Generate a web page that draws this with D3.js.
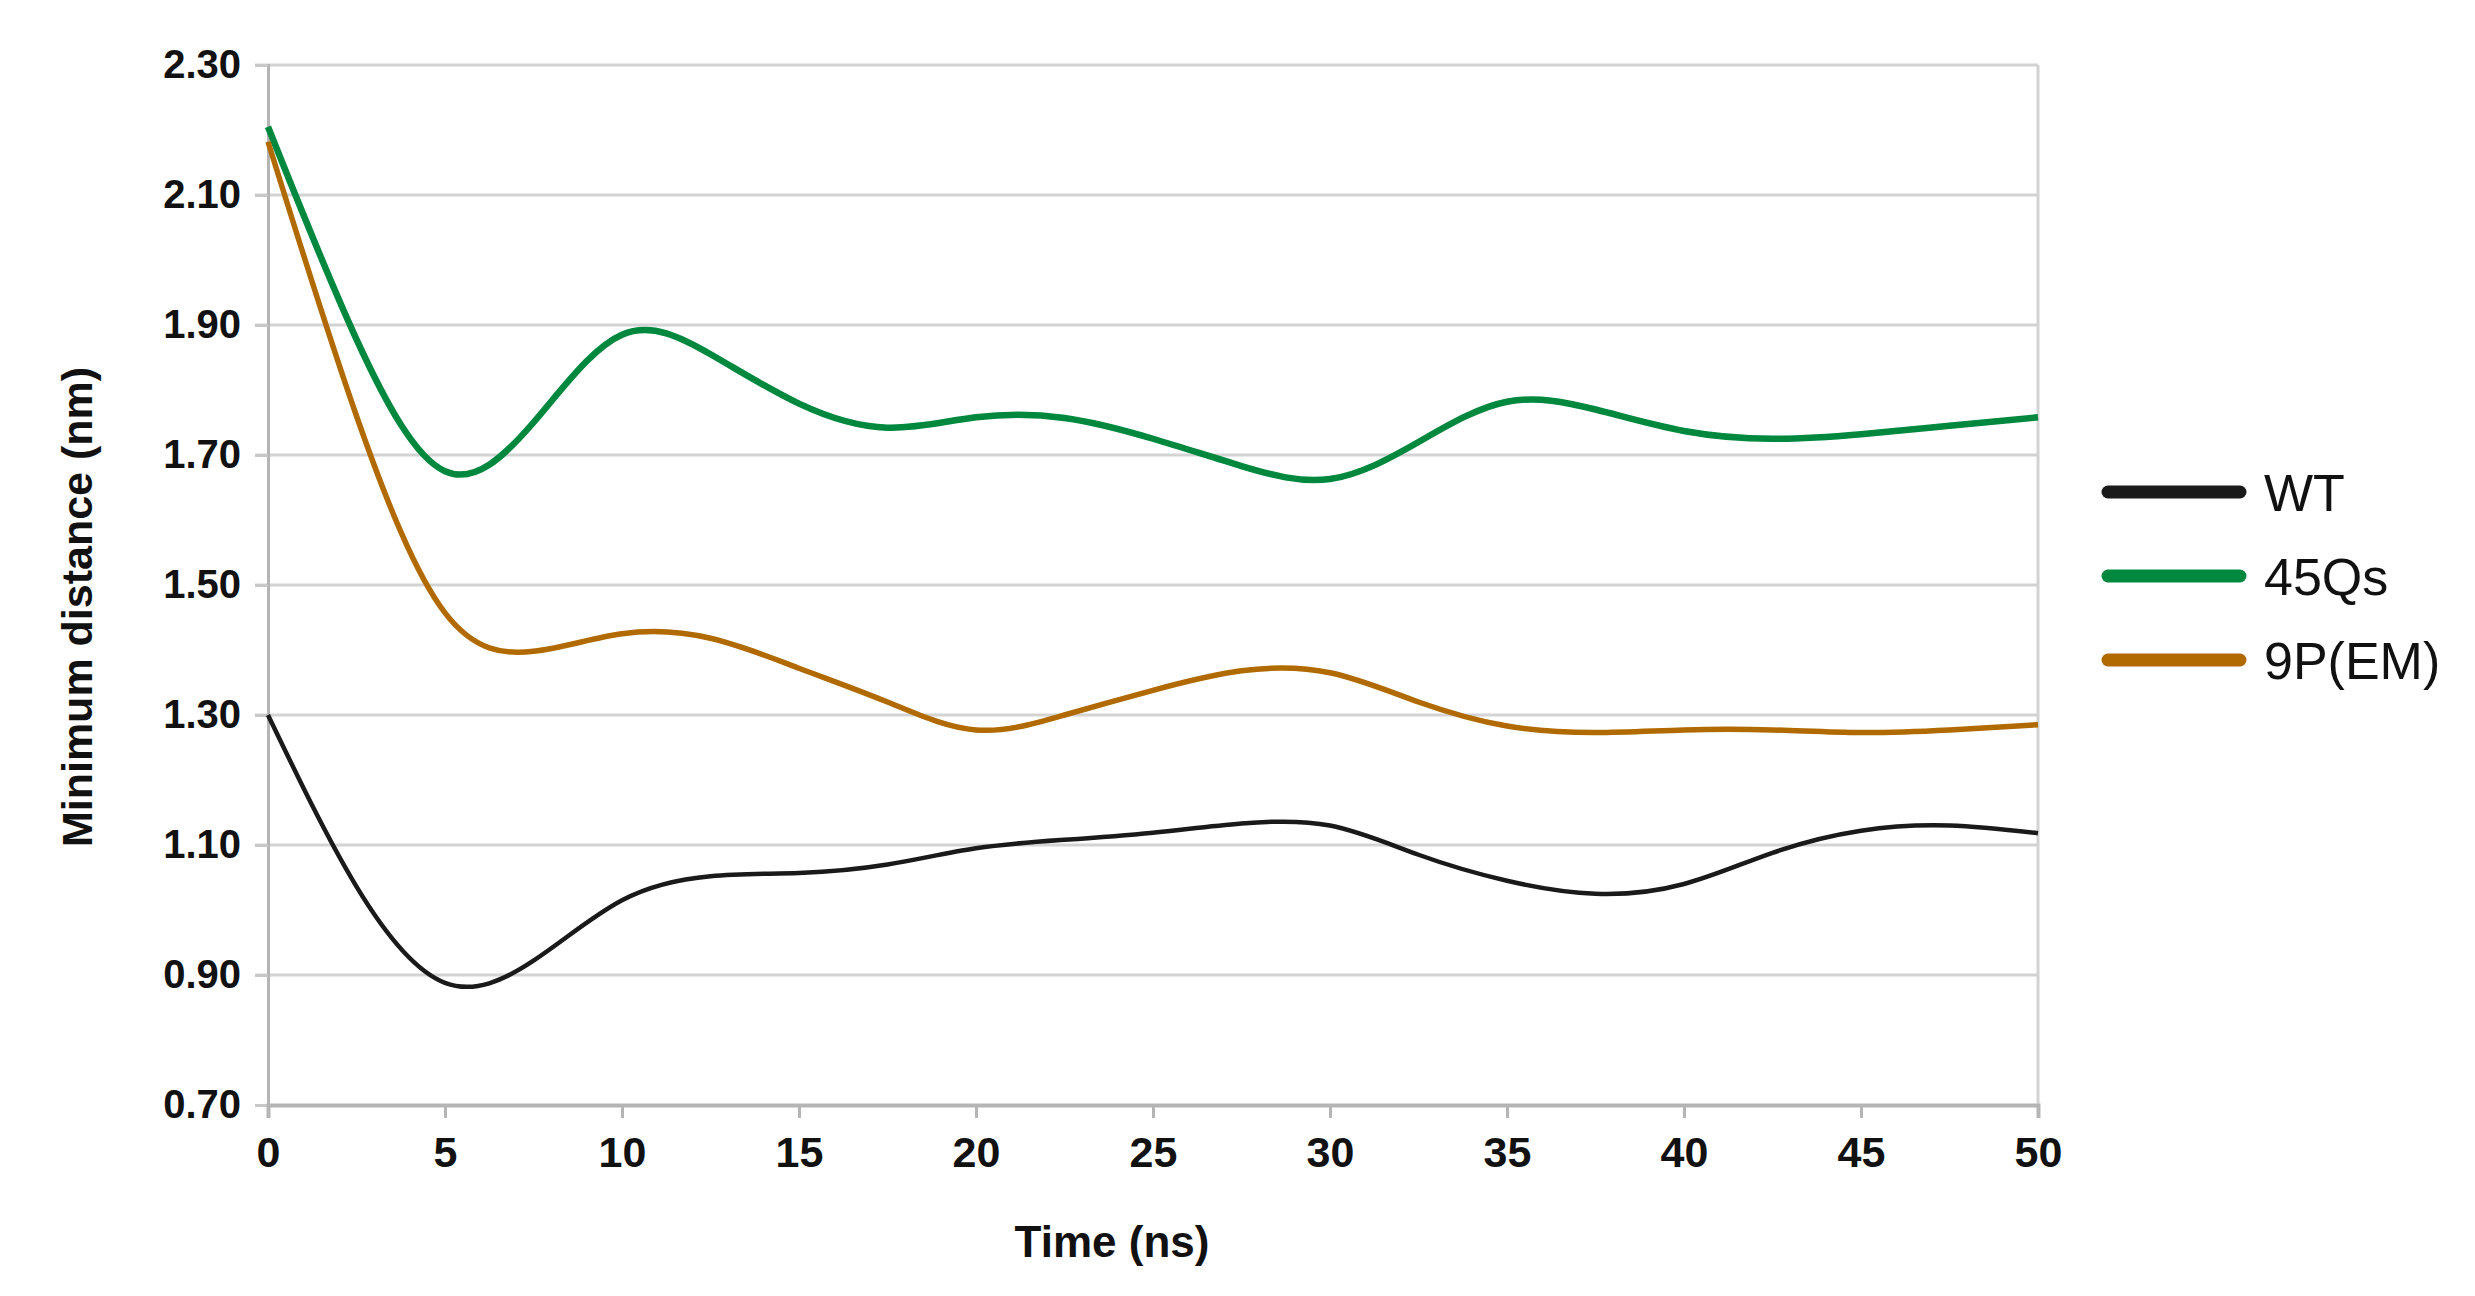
<!DOCTYPE html>
<html>
<head>
<meta charset="utf-8">
<script src="https://cdn.jsdelivr.net/npm/d3@7"></script>
<style>
  html, body { margin: 0; padding: 0; background: #ffffff; }
  svg { display: block; }
</style>
</head>
<body>
<svg id="chart" width="2475" height="1296"></svg>
<script>
// ---- data ----
const times = [0, 2.5, 5, 7.5, 10, 12.5, 15, 17.5, 20, 22.5, 25, 27.5, 30, 32.5, 35, 37.5, 40, 42.5, 45, 47.5, 50];
const seriesNames = ["WT", "45Qs", "9P(EM)"];
const wtValues   = [1.300, 1.036, 0.888, 0.922, 1.015, 1.052, 1.057, 1.070, 1.095, 1.108, 1.119, 1.133, 1.130, 1.085, 1.045, 1.025, 1.040, 1.088, 1.122, 1.130, 1.118];
const q45Values  = [2.205, 1.878, 1.675, 1.750, 1.885, 1.855, 1.779, 1.742, 1.758, 1.757, 1.725, 1.683, 1.663, 1.720, 1.782, 1.770, 1.737, 1.725, 1.732, 1.745, 1.758];
const p9Values   = [2.182, 1.760, 1.457, 1.398, 1.425, 1.418, 1.372, 1.320, 1.277, 1.300, 1.338, 1.368, 1.365, 1.320, 1.283, 1.273, 1.277, 1.277, 1.273, 1.277, 1.285];
const seriesColors = ["#1a1a1a", "#00883e", "#b06a00"];
const seriesWidths = [4.5, 6.5, 5.5];
const xTicks = [0, 5, 10, 15, 20, 25, 30, 35, 40, 45, 50];
const yTicks = [0.70, 0.90, 1.10, 1.30, 1.50, 1.70, 1.90, 2.10, 2.30];
const xTitle = "Time (ns)";
const yTitle = "Minimum distance (nm)";

// ---- layout ----
const plotLeft = 268, plotRight = 2038, plotTop = 65, plotBottom = 1105;
const svg = d3.select("#chart");
const x = d3.scaleLinear().domain([0, 50]).range([plotLeft, plotRight]);
const y = d3.scaleLinear().domain([0.70, 2.30]).range([plotBottom, plotTop]);
const FONT = "'Liberation Sans', Arial, sans-serif";

// gridlines
svg.append("g")
  .selectAll("line")
  .data(yTicks.filter(d => d > 0.71))
  .join("line")
  .attr("x1", plotLeft - 13).attr("x2", plotRight)
  .attr("y1", d => y(d)).attr("y2", d => y(d))
  .attr("stroke", "#d3d3d3").attr("stroke-width", 3);

// right border
svg.append("line")
  .attr("x1", plotRight).attr("x2", plotRight).attr("y1", plotTop).attr("y2", plotBottom)
  .attr("stroke", "#d3d3d3").attr("stroke-width", 3);

// y axis
const yAxis = d3.axisLeft(y).tickValues(yTicks).tickFormat(d3.format(".2f")).tickSize(13).tickPadding(14);
const gy = svg.append("g").attr("transform", `translate(${plotLeft},0)`).call(yAxis);
gy.select(".domain").attr("stroke", "#b5b5b5").attr("stroke-width", 3);
gy.selectAll(".tick line").attr("stroke", "#c8c8c8").attr("stroke-width", 3);
gy.selectAll(".tick text")
  .attr("font-family", FONT)
  .attr("font-weight", "bold").attr("font-size", 40).attr("fill", "#111");

// x axis
const xAxis = d3.axisBottom(x).tickValues(xTicks).tickFormat(d3.format("d")).tickSize(13).tickPadding(18);
const gx = svg.append("g").attr("transform", `translate(0,${plotBottom})`).call(xAxis);
gx.select(".domain").attr("stroke", "#b5b5b5").attr("stroke-width", 4);
gx.selectAll(".tick line").attr("stroke", "#b5b5b5").attr("stroke-width", 3);
gx.selectAll(".tick text")
  .attr("font-family", FONT)
  .attr("font-weight", "bold").attr("font-size", 43).attr("fill", "#111");

// series lines
const allValues = [wtValues, q45Values, p9Values];
const lineGen = d3.line().x(d => x(d[0])).y(d => y(d[1])).curve(d3.curveNatural);
allValues.forEach((vals, i) => {
  svg.append("path")
    .datum(times.map((t, j) => [t, vals[j]]))
    .attr("fill", "none")
    .attr("stroke", seriesColors[i])
    .attr("stroke-width", seriesWidths[i])
    .attr("stroke-linejoin", "round")
    .attr("d", lineGen);
});

// axis titles
svg.append("text")
  .attr("x", 1112).attr("y", 1257)
  .attr("text-anchor", "middle")
  .attr("font-family", FONT)
  .attr("font-weight", "bold").attr("font-size", 44).attr("fill", "#111")
  .text(xTitle);
svg.append("text")
  .attr("transform", "translate(92,607) rotate(-90)")
  .attr("text-anchor", "middle")
  .attr("font-family", FONT)
  .attr("font-weight", "bold").attr("font-size", 43).attr("fill", "#111")
  .text(yTitle);

// legend
const legendY = d3.scalePoint().domain(seriesNames).range([492, 660]);
const lg = svg.append("g");
seriesNames.forEach((name, i) => {
  lg.append("line")
    .attr("x1", 2108).attr("x2", 2240)
    .attr("y1", legendY(name)).attr("y2", legendY(name))
    .attr("stroke", seriesColors[i]).attr("stroke-width", 13)
    .attr("stroke-linecap", "round");
  lg.append("text")
    .attr("x", 2264).attr("y", legendY(name))
    .attr("dy", "0.36em")
    .attr("font-family", FONT)
    .attr("font-size", 52).attr("fill", "#111")
    .text(name);
});
</script>
</body>
</html>
